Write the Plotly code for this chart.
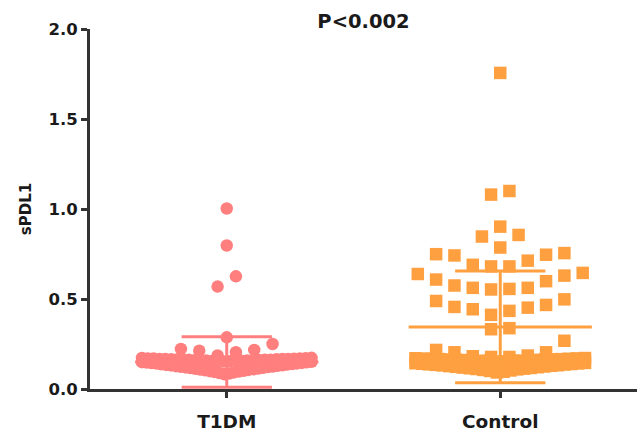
import numpy as np
import plotly.graph_objects as go

# ---------------- data ----------------
categories = ["T1DM", "Control"]

t1dm_values = [
    1.003, 0.797, 0.626, 0.569, 0.287,
    0.186, 0.204, 0.213, 0.217, 0.222, 0.250,
    0.153, 0.154, 0.155, 0.156, 0.156, 0.157, 0.158, 0.158, 0.159, 0.160,
    0.160, 0.161, 0.162, 0.162, 0.163, 0.163, 0.164, 0.165, 0.165, 0.166,
    0.166, 0.167, 0.167, 0.168, 0.169, 0.169, 0.170, 0.171, 0.172, 0.173,
    0.082, 0.086, 0.089, 0.092, 0.094, 0.097, 0.099, 0.101, 0.104, 0.106,
    0.108, 0.110, 0.112, 0.114, 0.116, 0.118, 0.120, 0.122, 0.123, 0.125,
    0.127, 0.129, 0.131, 0.132, 0.134, 0.136, 0.137, 0.139, 0.141, 0.142,
    0.144, 0.145, 0.147, 0.148, 0.149, 0.151,
]

control_values = [
    1.756, 1.080, 1.100, 0.902, 0.856, 0.847, 0.786,
    0.755, 0.746, 0.713, 0.742, 0.749, 0.681, 0.681, 0.690,
    0.639, 0.645, 0.608, 0.630, 0.599, 0.575, 0.562, 0.553, 0.556, 0.562,
    0.489, 0.456, 0.443, 0.412, 0.434, 0.452, 0.467, 0.498,
    0.332, 0.338, 0.268, 0.217, 0.204, 0.182, 0.186, 0.204, 0.178, 0.178,
    0.152, 0.154, 0.155, 0.156, 0.157, 0.158, 0.159, 0.160, 0.161, 0.162,
    0.162, 0.163, 0.164, 0.165, 0.166, 0.166, 0.167, 0.168, 0.169, 0.170,
    0.171, 0.172,
    0.092, 0.096, 0.100, 0.103, 0.106, 0.109, 0.111, 0.113, 0.115, 0.117,
    0.119, 0.121, 0.123, 0.125, 0.127, 0.129, 0.131, 0.132, 0.134, 0.136,
    0.137, 0.139, 0.140, 0.142, 0.143, 0.145,
]

group_means = [0.150, 0.345]
group_sds = [0.140, 0.310]

y_tick_values = [0.0, 0.5, 1.0, 1.5, 2.0]
y_tick_labels = ["0.0", "0.5", "1.0", "1.5", "2.0"]
title_text = "P<0.002"
y_title_text = "sPDL1"

# ---------------- styling / layout parameters ----------------
colors = ["#FF7E7E", "#FFA040"]
symbols = ["circle", "square"]
marker_sizes = [12.5, 12.5]
# row bins used by the scatter-dot layout (value bands)
row_edges = [
    [0.0, 0.152, 0.175, 0.27, 0.30, 0.55, 0.65, 0.75, 0.85, 1.1, 2.0],
    [0.0, 0.148, 0.175, 0.30, 0.36, 0.50, 0.55, 0.65, 0.76, 0.88, 0.95, 1.2, 2.0],
]
STEP = 0.067       # horizontal spacing between dots (category units)
MAX_HALF = 0.31    # max half-width of a row (category units)
MEAN_HALF = 0.335
SD_HALF = 0.165
AX = "#333333"
TXT = "#1a1a1a"
FONT = "DejaVu Sans"


def dot_offsets(values, edges, step, max_half):
    vals = np.asarray(values, dtype=float)
    offs = np.zeros(len(vals))
    bins = np.digitize(vals, edges)
    for b in np.unique(bins):
        members = np.where(bins == b)[0]
        members = members[np.argsort(vals[members], kind="stable")]
        n = len(members)
        s = step if n <= 1 else min(step, max_half / ((n - 1) / 2))
        for rank, m in enumerate(members):
            if n % 2 == 1:
                k = (rank + 1) // 2
                pos = (-k if rank % 2 == 1 else k)
            else:
                k = rank // 2 + 0.5
                pos = (-k if rank % 2 == 0 else k)
            offs[m] = pos * s
    return offs


series = [t1dm_values, control_values]
fig = go.Figure()

for i, vals in enumerate(series):
    offs = dot_offsets(vals, row_edges[i], STEP, MAX_HALF)
    fig.add_trace(go.Scatter(
        x=i + offs, y=vals, mode="markers",
        marker=dict(symbol=symbols[i], size=marker_sizes[i], color=colors[i],
                    line=dict(width=0)),
        cliponaxis=False, showlegend=False, hoverinfo="y",
    ))

for i in range(len(categories)):
    m, s = group_means[i], group_sds[i]
    line = dict(color=colors[i], width=3)
    segs = [
        ([i - MEAN_HALF, i + MEAN_HALF], [m, m]),
        ([i - SD_HALF, i + SD_HALF], [m + s, m + s]),
        ([i - SD_HALF, i + SD_HALF], [m - s, m - s]),
        ([i, i], [m - s, m + s]),
    ]
    for xs, ys in segs:
        fig.add_trace(go.Scatter(x=xs, y=ys, mode="lines", line=line,
                                 cliponaxis=False, showlegend=False,
                                 hoverinfo="skip"))

fig.update_layout(
    width=641, height=436,
    margin=dict(l=90, r=4, t=29, b=44),
    paper_bgcolor="white", plot_bgcolor="white",
    font=dict(family=FONT, color=TXT),
    title=dict(text=title_text, x=0.5, xref="paper", xanchor="center",
               y=1 - 21.5 / 436, yref="container", yanchor="middle",
               font=dict(family=FONT, size=19.5, weight="bold", color=TXT)),
    xaxis=dict(
        range=[-0.5, 1.5], tickvals=list(range(len(categories))),
        ticktext=categories, showline=True, linecolor=AX, linewidth=3,
        ticks="outside", ticklen=6, tickwidth=3, tickcolor=AX,
        tickfont=dict(family=FONT, size=18.5, weight="bold", color=TXT),
        ticklabelstandoff=8, showgrid=False, zeroline=False, fixedrange=True,
    ),
    yaxis=dict(
        range=[0, 2.0], tickvals=y_tick_values, ticktext=y_tick_labels,
        showline=True, linecolor=AX, linewidth=3,
        ticks="outside", ticklen=6, tickwidth=3, tickcolor=AX,
        tickfont=dict(family=FONT, size=16.5, weight="bold", color=TXT),
        title=dict(text=y_title_text, standoff=14,
                   font=dict(family=FONT, size=15, weight="bold", color=TXT)),
        showgrid=False, zeroline=False, fixedrange=True,
    ),
)

fig.write_html(
    "out.html",
    config={"displayModeBar": False},
    post_script="document.body.style.margin='0';document.body.style.overflow='hidden';",
)
